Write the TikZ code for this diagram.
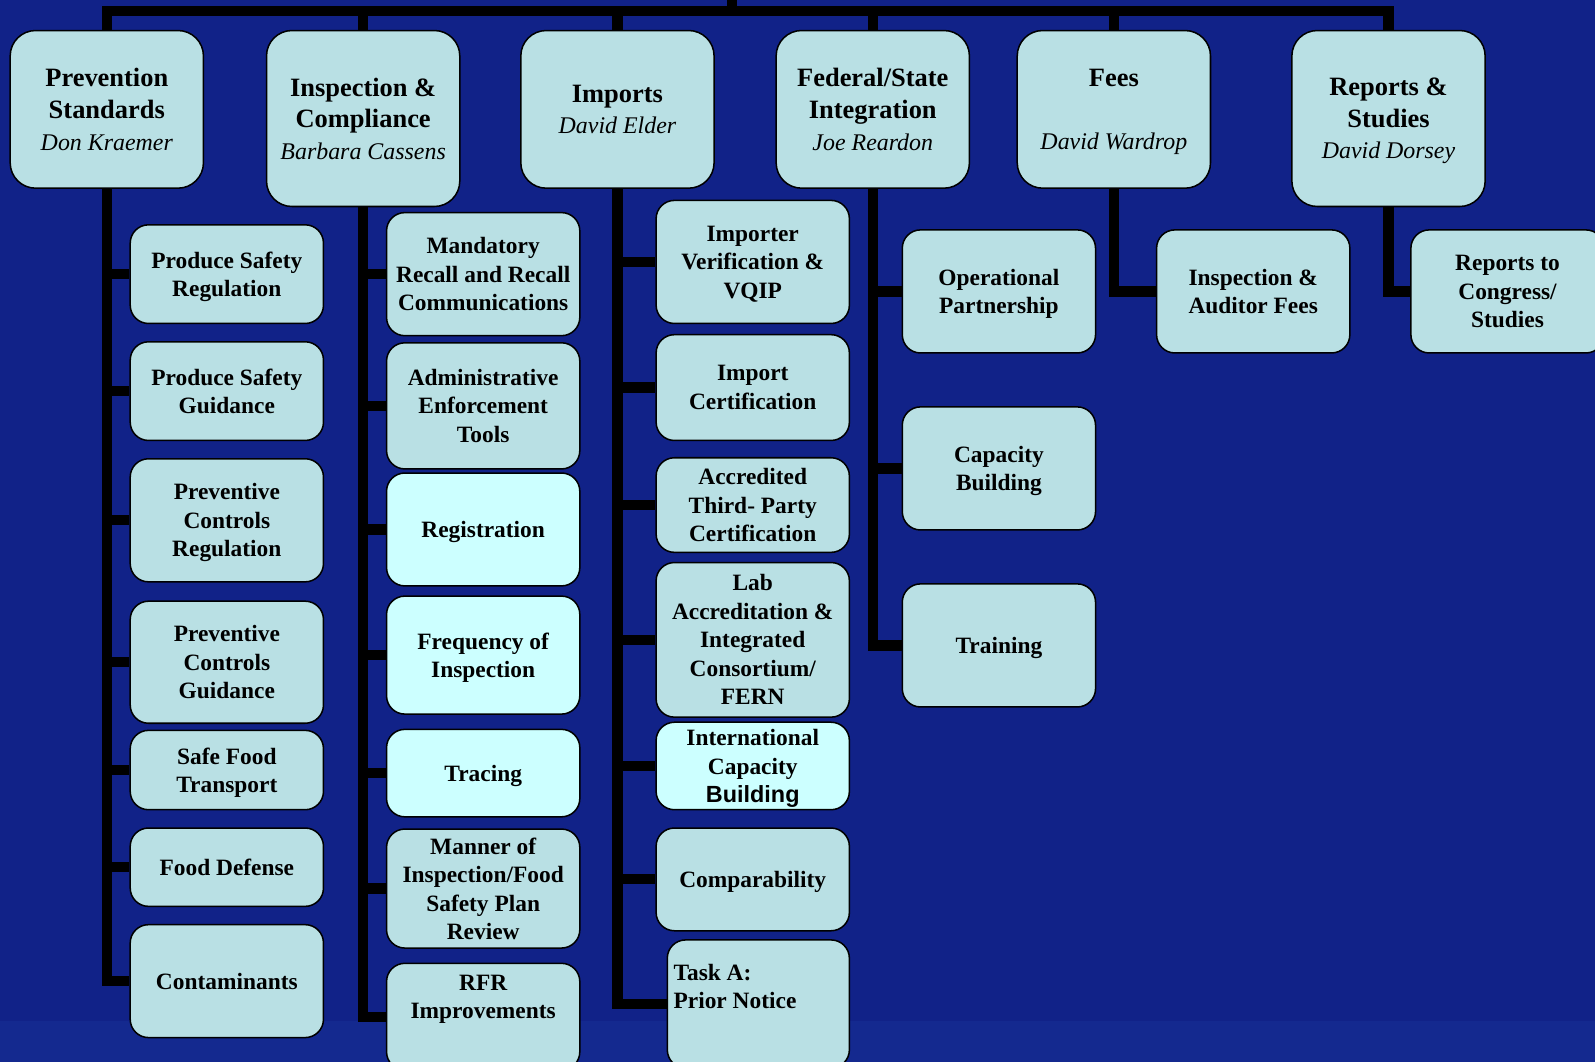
\documentclass[tikz,border=0pt]{standalone}
\usepackage{fontspec}
\setmainfont{Liberation Serif}
\setsansfont{Liberation Sans}
\definecolor{bgblue}{RGB}{17,34,136}
\definecolor{bgbottom}{RGB}{20,41,143}
\definecolor{boxfill}{RGB}{185,224,228}
\definecolor{boxhi}{RGB}{204,255,255}
\newcommand{\headfont}{\fontsize{26}{31}\selectfont\bfseries}
\newcommand{\subfont}{\fontsize{23}{28}\selectfont\bfseries}
\newcommand{\person}[1]{{\fontsize{23.5}{31}\selectfont\mdseries\itshape #1}}
\begin{document}
\begin{tikzpicture}[x=1pt, y=-1pt,
    trunk/.style={line width=10pt, black, line join=miter},
    headbox/.style={draw=black, line width=1.5pt, fill=boxfill, rounded corners=25pt,
        minimum width=190pt, inner sep=0pt, align=center, font=\headfont, text depth=-3pt},
    subtext/.style={inner sep=0pt, align=center, font=\subfont, text depth=-3pt},
    subbox/.style={subtext, draw=black, line width=1.5pt, fill=boxfill, rounded corners=18pt,
        minimum width=190pt},
    hibox/.style={subbox, fill=boxhi}]
    \useasboundingbox (0,0) rectangle (1568,1044);
    \clip (0,0) rectangle (1568,1044);

    % Fond
    \fill[bgblue] (0,0) rectangle (1568,1004);
    \fill[bgbottom] (0,1004) rectangle (1568,1044);

    % Cases du haut
    \node[headbox, minimum height=155pt] (ps) at (105,107.5) {Prevention\\Standards\\\person{Don Kraemer}};
    \node[headbox, minimum height=173pt] (ic) at (357,116.5) {Inspection \&\\Compliance\\\person{Barbara Cassens}};
    \node[headbox, minimum height=155pt] (im) at (607,107.5) {Imports\\\person{David Elder}};
    \node[headbox, minimum height=155pt] (fs) at (858,107.5) {Federal/State\\Integration\\\person{Joe Reardon}};
    \node[headbox, minimum height=155pt] (fe) at (1095,107.5) {Fees\\[31pt]\person{David Wardrop}};
    \node[headbox, minimum height=173pt] (rs) at (1365,116.5) {Reports \&\\Studies\\\person{David Dorsey}};

    % Prevention Standards
    \node[subbox, minimum height=97pt] (ps1) at (223,269.5) {Produce Safety\\Regulation};
    \node[subbox, minimum height=97pt] (ps2) at (223,384.5) {Produce Safety\\Guidance};
    \node[subbox, minimum height=121pt] (ps3) at (223,511.5) {Preventive\\Controls\\Regulation};
    \node[subbox, minimum height=120pt] (ps4) at (223,651) {Preventive\\Controls\\Guidance};
    \node[subbox, minimum height=78pt] (ps5) at (223,757) {Safe Food\\Transport};
    \node[subbox, minimum height=77pt] (ps6) at (223,852.5) {Food Defense};
    \node[subbox, minimum height=111pt] (ps7) at (223,964.5) {Contaminants};

    % Inspection & Compliance
    \node[subbox, minimum height=121pt] (ic1) at (475,269.5) {Mandatory\\Recall and Recall\\Communications};
    \node[subbox, minimum height=124pt] (ic2) at (475,399) {Administrative\\Enforcement\\Tools};
    \node[hibox, minimum height=111pt] (ic3) at (475,520.5) {Registration};
    \node[hibox, minimum height=116pt] (ic4) at (475,644) {Frequency of\\Inspection};
    \node[hibox, minimum height=86pt] (ic5) at (475,760) {Tracing};
    \node[subbox, minimum height=117pt] (ic6) at (475,873.5) {Manner of\\Inspection/Food\\Safety Plan\\Review};
    \node[subbox, minimum height=105pt] (ic7) at (475,999.5) {};
    \node[subtext] (ic7t) at (475,980) {RFR\\Improvements};

    % Imports
    \node[subbox, minimum height=121pt] (im1) at (740,257.5) {Importer\\Verification \&\\VQIP};
    \node[subbox, minimum height=104pt] (im2) at (740,381) {Import\\Certification};
    \node[subbox, minimum height=93pt] (im3) at (740,496.5) {Accredited\\Third- Party\\Certification};
    \node[subbox, minimum height=152pt] (im4) at (740,629) {Lab\\Accreditation \&\\Integrated\\Consortium/\\FERN};
    \node[hibox, minimum height=86pt] (im5) at (740,753) {International\\Capacity\\{\sffamily Building}};
    \node[subbox, minimum height=101pt] (im6) at (740,864.5) {Comparability};
    \node[subbox, minimum width=179pt, minimum height=126pt] (im7) at (745.5,987) {};
    \node[subtext, anchor=west, align=left] (im7t) at (662,969.5) {Task A:\\Prior Notice};

    % Federal/State Integration
    \node[subbox, minimum height=121pt] (fs1) at (982,286.5) {Operational\\Partnership};
    \node[subbox, minimum height=121pt] (fs2) at (982,460.5) {Capacity\\Building};
    \node[subbox, minimum height=121pt] (fs3) at (982,634.5) {Training};

    % Fees, Reports & Studies
    \node[subbox, minimum height=121pt] (fe1) at (1232,286.5) {Inspection \&\\Auditor Fees};
    \node[subbox, minimum height=121pt] (rs1) at (1482,286.5) {Reports to\\Congress/\\Studies};

    % Barre du haut
    \coordinate (bar) at (0,11);
    \coordinate (root) at (720,0);
    \draw[trunk] (ps.north) -- (ps.north |- bar) -- (rs.north |- bar) -- (rs.north);
    \foreach \n in {ic,im,fs,fe}
        \draw[trunk] (\n.north) -- (\n.north |- bar);
    \draw[trunk] (root) -- (root |- bar);

    % Branches
    \foreach \c in {ps1,ps2,ps3,ps4,ps5,ps6,ps7}
        \draw[trunk] (ps.south) |- (\c.west);
    \foreach \c in {ic1,ic2,ic3,ic4,ic5,ic6,ic7}
        \draw[trunk] (ic.south) |- (\c.west);
    \foreach \c in {im1,im2,im3,im4,im5,im6,im7}
        \draw[trunk] (im.south) |- (\c.west);
    \foreach \c in {fs1,fs2,fs3}
        \draw[trunk] (fs.south) |- (\c.west);
    \draw[trunk] (fe.south) |- (fe1.west);
    \draw[trunk] (rs.south) |- (rs1.west);
\end{tikzpicture}
\end{document}
